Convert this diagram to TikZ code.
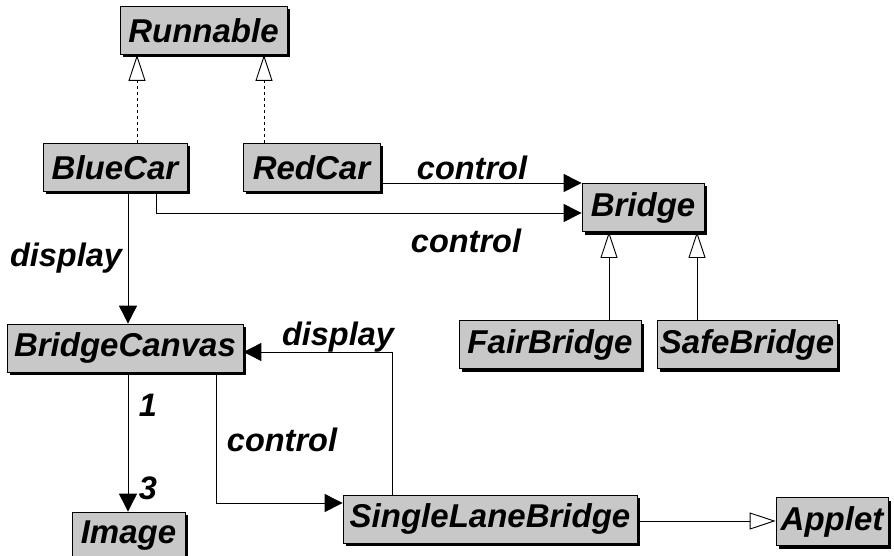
\documentclass[tikz,border=0pt]{standalone}
\usepackage{fontspec}
\setmainfont{Liberation Sans}
\usetikzlibrary{arrows.meta,shadows}
\begin{document}
\begin{tikzpicture}[x=1pt,y=-1pt,
  classbox/.style={draw=black, line width=0.8pt, fill=boxgray,
    drop shadow={shadow xshift=3pt, shadow yshift=-3pt, fill=black, opacity=1},
    minimum height=48pt, inner sep=0pt,
    font=\fontsize{33}{33}\selectfont\bfseries\itshape},
  lbl/.style={inner sep=0pt, font=\fontsize{32.5}{32.5}\selectfont\bfseries\itshape},
  link/.style={line width=0.9pt},
  uses/.style={link, -{Triangle[length=18pt,width=18pt]}},
  isa/.style={link, -{Triangle[open,length=26pt,width=17pt,line width=0.9pt]}},
  impl/.style={isa, dash pattern=on 3pt off 3pt}]
\definecolor{boxgray}{RGB}{200,200,200}
\useasboundingbox (0,0) rectangle (894,556);
\clip (0,0) rectangle (894,556);

% classes
\node[classbox, minimum width=167pt] (run) at (203.5,30.5) {Runnable};
\node[classbox, minimum width=144pt] (blue) at (115,167.5) {BlueCar};
\node[classbox, minimum width=137pt] (red) at (311.5,167.5) {RedCar};
\node[classbox, minimum width=122pt] (bridge) at (643,207.5) {Bridge};
\node[classbox, minimum width=236pt] (canvas) at (125,348) {BridgeCanvas};
\node[classbox, minimum width=182pt] (fair) at (550,344.5) {FairBridge};
\node[classbox, minimum width=180pt] (safe) at (747,344.5) {SafeBridge};
\node[classbox, minimum width=113pt] (image) at (128.5,536) {Image};
\node[classbox, minimum width=294pt] (slb) at (490,519) {SingleLaneBridge};
\node[classbox, minimum width=112pt] (applet) at (832,521.5) {Applet};

% routing columns and rows
\coordinate (cBlueImpl) at (137,0);
\coordinate (cRedImpl) at (264,0);
\coordinate (cBlueCtl) at (156,213);
\coordinate (cBlueDisp) at (128,0);
\coordinate (cRedCtl) at (0,183);
\coordinate (cFair) at (609,0);
\coordinate (cSafe) at (697,0);
\coordinate (cSlbDisp) at (392,352);
\coordinate (cCanvasCtl) at (216,503);
\coordinate (cImg) at (128,0);
\coordinate (cApplet) at (0,521);

% implements Runnable
\draw[impl] (blue.north -| cBlueImpl) -- (run.south -| cBlueImpl);
\draw[impl] (red.north -| cRedImpl) -- (run.south -| cRedImpl);

% control links to Bridge
\draw[uses] (red.east |- cRedCtl) -- (bridge.west |- cRedCtl);
\draw[uses] (blue.south -| cBlueCtl) -- (cBlueCtl) -- (bridge.west |- cBlueCtl);

% display link to canvas
\draw[uses] (blue.south -| cBlueDisp) -- (canvas.north -| cBlueDisp);

% Bridge subclasses
\draw[isa] (fair.north -| cFair) -- (bridge.south -| cFair);
\draw[isa] (safe.north -| cSafe) -- (bridge.south -| cSafe);

% SingleLaneBridge links
\draw[uses] (slb.north -| cSlbDisp) -- (cSlbDisp) -- (canvas.east |- cSlbDisp);
\draw[uses] (canvas.south -| cCanvasCtl) -- (cCanvasCtl) -- (slb.west |- cCanvasCtl);
\draw[uses] (canvas.south -| cImg) -- (image.north -| cImg);
\draw[isa] (slb.east |- cApplet) -- (applet.west |- cApplet);

% labels
\node[lbl] (lRedCtl) at (472,168) {control};
\node[lbl] (lBlueCtl) at (466,241) {control};
\node[lbl] (lBlueDisp) at (66,258) {display};
\node[lbl] (lSlbDisp) at (338,337) {display};
\node[lbl] (lCanvasCtl) at (282,440) {control};
\node[lbl] (lOne) at (148,405) {1};
\node[lbl] (lThree) at (148,488) {3};
\end{tikzpicture}
\end{document}
